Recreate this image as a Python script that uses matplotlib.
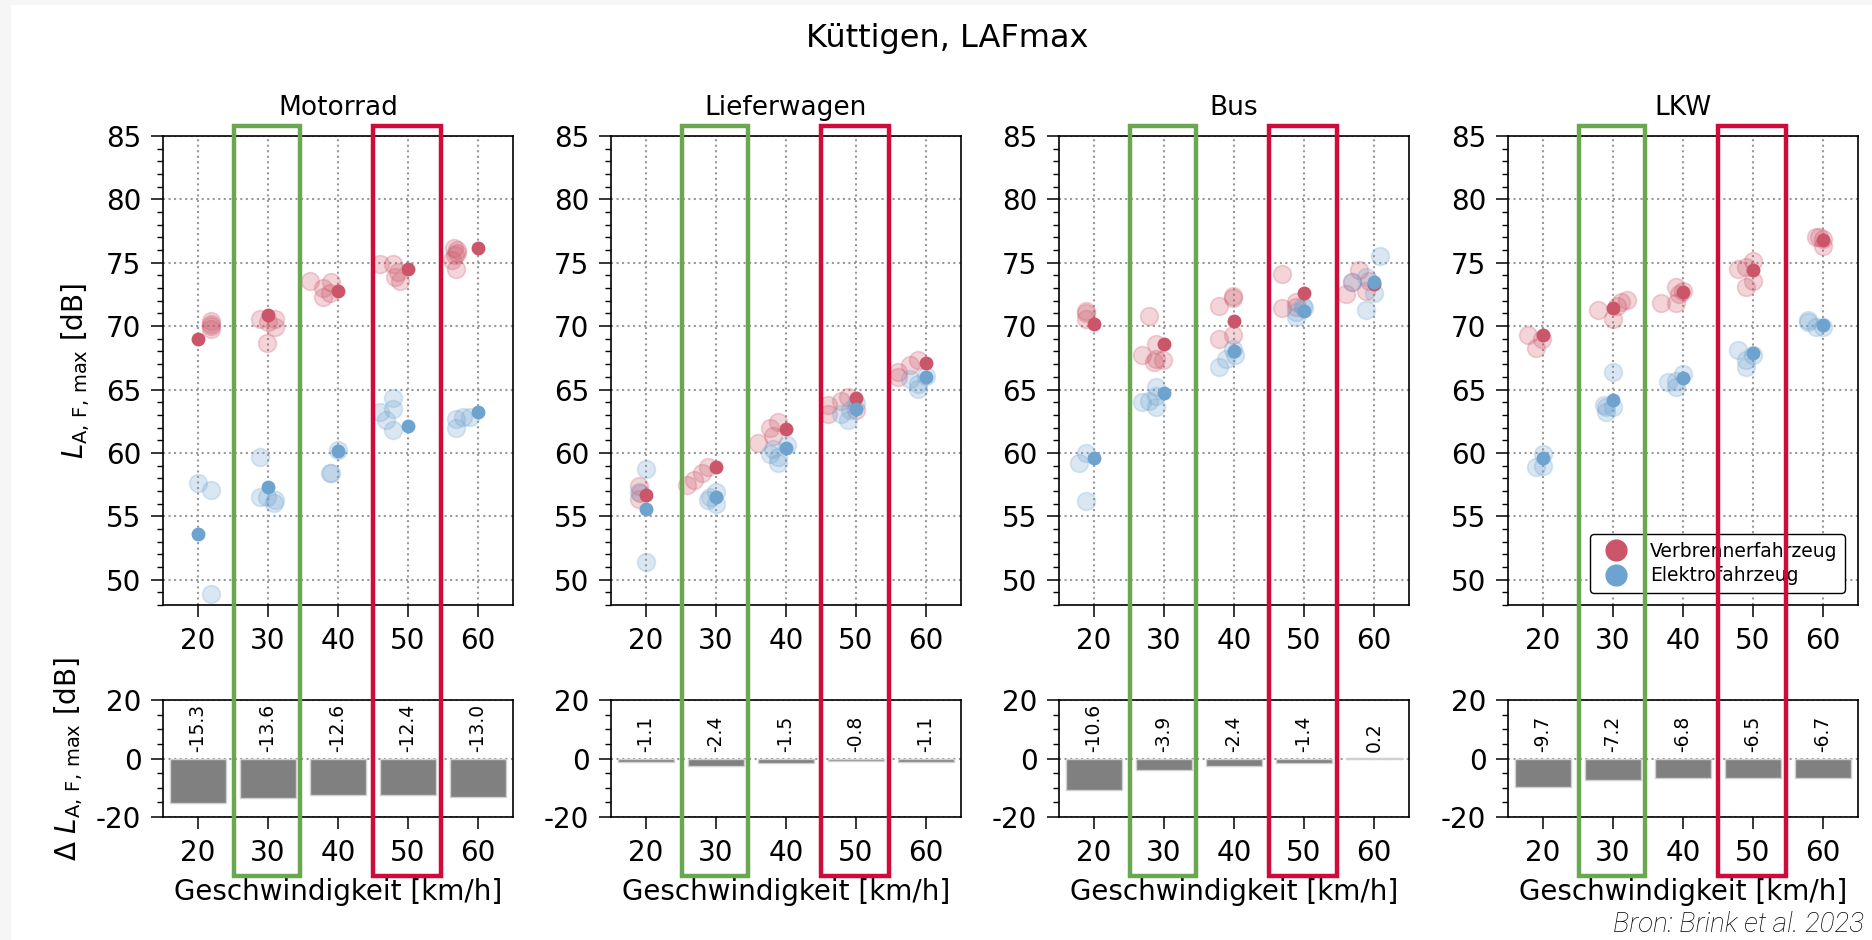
import matplotlib
matplotlib.use("Agg")
import matplotlib.pyplot as plt
import matplotlib.transforms as mtransforms
from matplotlib.patches import Rectangle
from matplotlib.lines import Line2D
from matplotlib.ticker import MultipleLocator

plt.rcParams['font.family'] = ['DejaVu Sans']
plt.rcParams['axes.unicode_minus'] = False

# Daten
speeds = [20, 30, 40, 50, 60]
vehicles = ['Motorrad', 'Lieferwagen', 'Bus', 'LKW']

# Motorrad
moto_verb_x = [21.9, 21.9, 21.9, 21.8, 28.8, 31.0, 30.0, 31.0, 29.9, 36.0, 39.0, 37.9, 37.9, 38.8,
               46.0, 47.9, 48.6, 48.1, 48.9, 56.5, 57.0, 56.7, 56.3, 56.8, 57.0]
moto_verb_y = [70.4, 70.0, 69.8, 70.2, 70.6, 70.6, 70.3, 69.9, 68.7, 73.6, 73.5, 73.0, 72.3, 72.6,
               74.9, 74.9, 74.3, 73.9, 73.6, 76.2, 76.0, 75.6, 75.2, 74.5, 75.8]
moto_elek_x = [20.0, 21.9, 21.9, 28.9, 28.8, 29.9, 31.0, 30.8, 39.0, 38.8, 40.0,
               46.0, 47.9, 47.9, 46.9, 47.9, 56.9, 57.9, 56.9, 58.8]
moto_elek_y = [57.6, 57.1, 48.9, 59.7, 56.5, 56.5, 56.3, 56.05, 58.4, 58.4, 60.2,
               63.2, 64.3, 63.5, 62.6, 61.8, 62.7, 62.8, 62.0, 62.8]
moto_verb_mean = [69.0, 70.9, 72.75, 74.5, 76.2]
moto_elek_mean = [53.6, 57.3, 60.15, 62.1, 63.2]
moto_delta = [-15.3, -13.6, -12.6, -12.4, -13.0]

# Lieferwagen
lief_verb_x = [19.0, 19.0, 19.2, 25.8, 26.9, 28.0, 28.9, 36.0, 37.7, 38.9, 38.2,
               46.0, 46.0, 47.9, 48.9, 50.0, 56.0, 56.0, 57.7, 58.9]
lief_verb_y = [57.4, 56.4, 56.8, 57.5, 57.9, 58.4, 58.9, 60.8, 62.0, 62.4, 61.3,
               63.8, 63.1, 64.1, 64.4, 63.4, 66.4, 66.0, 66.9, 67.3]
lief_elek_x = [20.0, 19.0, 20.0, 28.9, 30.0, 30.0, 29.1, 37.7, 38.9, 38.9, 40.1, 38.2,
               47.9, 48.9, 50.0, 49.1, 57.7, 58.9, 58.9, 60.0]
lief_elek_y = [58.7, 56.9, 51.4, 56.3, 56.9, 56.0, 56.5, 59.9, 59.7, 59.2, 60.6, 60.3,
               63.1, 62.6, 63.9, 63.4, 65.8, 65.4, 65.05, 66.1]
lief_verb_mean = [56.7, 58.9, 61.9, 64.3, 67.1]
lief_elek_mean = [55.6, 56.5, 60.4, 63.5, 66.0]
lief_delta = [-1.1, -2.4, -1.5, -0.8, -1.1]

# Bus
bus_verb_x = [18.8, 18.8, 18.8, 27.9, 26.8, 28.8, 28.8, 29.9, 28.6, 37.9, 39.9, 39.9, 39.9, 37.9,
              46.8, 46.8, 48.8, 48.8, 57.9, 56.0, 56.9, 58.8, 59.3]
bus_verb_y = [71.2, 71.0, 70.6, 70.8, 67.7, 68.6, 67.4, 67.3, 67.2, 71.6, 72.2, 72.4, 69.3, 69.0,
              74.1, 71.4, 71.9, 71.5, 74.4, 72.5, 73.5, 72.8, 73.6]
bus_elek_x = [18.8, 17.8, 18.8, 26.8, 27.9, 28.8, 28.8, 28.8, 37.9, 38.8, 39.9, 40.2,
              48.8, 49.8, 48.8, 50.0, 60.8, 58.8, 58.8, 60.0, 56.9]
bus_elek_y = [60.0, 59.2, 56.2, 64.0, 64.1, 65.2, 63.6, 64.5, 66.8, 67.4, 68.2, 67.7,
              70.7, 71.6, 71.1, 71.4, 75.5, 73.9, 71.3, 72.6, 73.5]
bus_verb_mean = [70.2, 68.6, 70.4, 72.6, 73.3]
bus_elek_mean = [59.6, 64.7, 68.0, 71.2, 73.5]
bus_delta = [-10.6, -3.9, -2.4, -1.4, 0.2]

# LKW
lkw_verb_x = [17.9, 19.0, 19.9, 27.9, 30.0, 31.1, 32.0, 30.6, 36.9, 38.95, 39.0, 40.0, 39.4,
              47.9, 49.0, 50.0, 50.0, 49.0, 59.0, 60.0, 60.0, 59.4]
lkw_verb_y = [69.3, 68.3, 69.0, 71.25, 70.6, 71.9, 72.1, 71.6, 71.8, 71.8, 73.1, 72.8, 72.5,
              74.5, 73.1, 75.1, 73.6, 74.7, 77.0, 76.9, 76.3, 77.0]
lkw_elek_x = [19.0, 20.0, 20.0, 30.0, 28.95, 28.95, 30.0, 28.7, 37.9, 38.95, 38.95, 40.0,
              47.9, 49.0, 49.0, 50.0, 57.9, 59.0, 60.0, 57.9]
lkw_elek_y = [58.9, 59.9, 59.0, 66.4, 63.6, 63.2, 63.6, 63.8, 65.6, 65.2, 65.7, 66.25,
              68.1, 67.3, 66.8, 67.7, 70.3, 69.9, 69.9, 70.5]
lkw_verb_mean = [69.3, 71.4, 72.7, 74.4, 76.8]
lkw_elek_mean = [59.6, 64.2, 65.9, 67.9, 70.1]
lkw_delta = [-9.7, -7.2, -6.8, -6.5, -6.7]

panels = [
    (moto_verb_x, moto_verb_y, moto_elek_x, moto_elek_y, moto_verb_mean, moto_elek_mean, moto_delta),
    (lief_verb_x, lief_verb_y, lief_elek_x, lief_elek_y, lief_verb_mean, lief_elek_mean, lief_delta),
    (bus_verb_x, bus_verb_y, bus_elek_x, bus_elek_y, bus_verb_mean, bus_elek_mean, bus_delta),
    (lkw_verb_x, lkw_verb_y, lkw_elek_x, lkw_elek_y, lkw_verb_mean, lkw_elek_mean, lkw_delta),
]

c_verb = '#cc5669'
c_elek = '#6fa3cf'
c_green = '#6aa84f'
c_red = '#d10a3c'
grid_kw = dict(color='#999999', linestyle=':', linewidth=1.5)

W, H = 1872, 940
fig = plt.figure(figsize=(W / 100, H / 100), dpi=100)
fig.patch.set_facecolor('#f6f6f6')
fig.add_artist(Rectangle((11 / W, 0), 1, 1 - 5 / H, transform=fig.transFigure,
                         facecolor='white', edgecolor='none', zorder=-10))

lefts = [163, 611, 1059, 1508]
ax_w = 350

fig.text(947 / W, 1 - 47 / H, 'Küttigen, LAFmax', ha='center', va='baseline', fontsize=23)

for i, (vx, vy, ex, ey, vm, em, dl) in enumerate(panels):
    l = lefts[i] / W
    ax = fig.add_axes([l, 1 - 605 / H, ax_w / W, 469 / H])
    axb = fig.add_axes([l, 1 - 817 / H, ax_w / W, 117 / H])

    # Streudiagramm
    ax.scatter(vx, vy, s=165, color=c_verb, alpha=0.25, linewidths=1.2, zorder=2)
    ax.scatter(ex, ey, s=165, color=c_elek, alpha=0.25, linewidths=1.2, zorder=2)
    ax.scatter(speeds, vm, s=100, color=c_verb, linewidths=0, zorder=3)
    ax.scatter(speeds, em, s=100, color=c_elek, linewidths=0, zorder=3)
    ax.set_xlim(15, 65)
    ax.set_ylim(48, 85)
    ax.set_xticks(speeds)
    ax.yaxis.set_major_locator(MultipleLocator(5))
    ax.yaxis.set_minor_locator(MultipleLocator(1))
    ax.set_axisbelow(True)
    ax.grid(True, **grid_kw)
    ax.set_title(vehicles[i], fontsize=19, pad=15)

    # Differenz-Balken
    axb.bar(speeds, dl, width=8, color='#808080', edgecolor='#d0d0d0', linewidth=1, zorder=2)
    for s, d in zip(speeds, dl):
        axb.text(s, 2.2, f'{d:.1f}', rotation=90, ha='center', va='bottom', fontsize=13.5)
    axb.set_xlim(15, 65)
    axb.set_ylim(-20, 20)
    axb.set_xticks(speeds)
    axb.yaxis.set_major_locator(MultipleLocator(20))
    axb.yaxis.set_minor_locator(MultipleLocator(5))
    axb.grid(True, axis='y', zorder=3, **grid_kw)
    axb.set_xlabel('Geschwindigkeit [km/h]', fontsize=20, labelpad=8)

    for a in (ax, axb):
        a.tick_params(which='major', direction='out', length=8.5, width=1.1, pad=7, labelsize=20)
        a.tick_params(which='minor', direction='out', length=4, width=1.0)
        a.tick_params(axis='x', which='minor', bottom=False)
        for sp in a.spines.values():
            sp.set_linewidth(1.2)

    if i == 0:
        ax.set_ylabel(r'$L_{\mathrm{A,\,F,\,max}}$ [dB]', fontsize=20, labelpad=10)
        axb.set_ylabel(r'$\Delta\ L_{\mathrm{A,\,F,\,max}}$ [dB]', fontsize=20, labelpad=8)

    if i == 3:
        handles = [Line2D([], [], marker='o', linestyle='none', markersize=15, color=c_verb),
                   Line2D([], [], marker='o', linestyle='none', markersize=15, color=c_elek)]
        leg = ax.legend(handles, ['Verbrennerfahrzeug', 'Elektrofahrzeug'], loc='lower right',
                        bbox_to_anchor=(0.963, 0.026), borderaxespad=0, fontsize=13.5,
                        framealpha=1, edgecolor='black', labelspacing=0.3, handletextpad=0.8)
        leg.get_frame().set_linewidth(1.0)

    # Markierungen 30 und 50 km/h
    trans = mtransforms.blended_transform_factory(ax.transData, fig.transFigure)
    y0, y1 = 0.068, 0.866
    for (x0, x1, c) in [(25.15, 34.55, c_green), (45.05, 54.7, c_red)]:
        fig.add_artist(Rectangle((x0, y0), x1 - x0, y1 - y0, transform=trans, fill=False,
                                 edgecolor=c, linewidth=3.2, zorder=10))

fig.text(1864 / W, 1 - 932 / H, 'Bron: Brink et al. 2023', ha='right', va='baseline',
         fontsize=20, style='italic', fontweight='light', color='black',
         family=['Roboto', 'DejaVu Sans'])

fig.savefig('out.png', dpi=100, facecolor=fig.get_facecolor())
